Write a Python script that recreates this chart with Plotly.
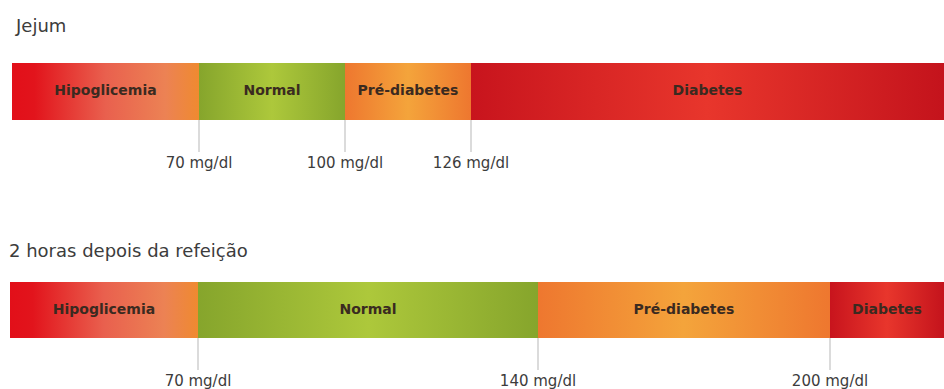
import plotly.graph_objects as go

# --- data -------------------------------------------------------------
fasting_title = "Jejum"
fasting_zones = ["Hipoglicemia", "Normal", "Pré-diabetes", "Diabetes"]
fasting_cutoffs = [70, 100, 126]           # mg/dl between consecutive zones
fasting_widths = [187, 146, 126, 473]      # schematic display width of each zone

postmeal_title = "2 horas depois da refeição"
postmeal_zones = ["Hipoglicemia", "Normal", "Pré-diabetes", "Diabetes"]
postmeal_cutoffs = [70, 140, 200]
postmeal_widths = [188, 340, 292, 114]

unit = "mg/dl"

# gradient per zone: darker at the edges, lighter towards the middle
zone_gradients = {
    "Hipoglicemia": [[0.0, "#e20f19"], [0.12, "#e2141c"], [0.5, "#e9604e"], [0.82, "#ec8254"], [1.0, "#ef8a30"]],
    "Normal": [[0.0, "#86a52c"], [0.5, "#adc83b"], [1.0, "#86a52c"]],
    "Pré-diabetes": [[0.0, "#ee772f"], [0.5, "#f4a43b"], [1.0, "#ee772f"]],
    "Diabetes": [[0.0, "#c8141d"], [0.5, "#e8362c"], [1.0, "#c4131c"]],
}

# --- layout constants (page pixels) -----------------------------------
W, H = 944, 389
rows = [
    dict(title=fasting_title, zones=fasting_zones, cutoffs=fasting_cutoffs,
         widths=fasting_widths, x0=12, title_x=13, title_y=25, bar_top=63, bar_bot=120),
    dict(title=postmeal_title, zones=postmeal_zones, cutoffs=postmeal_cutoffs,
         widths=postmeal_widths, x0=10, title_x=7, title_y=250, bar_top=282, bar_bot=338),
]
TICK_LEN = 32
LABEL_GAP = 12
FONT = "DejaVu Sans"
TEXT_DARK = "#3a2a20"
TEXT_GREY = "#3c3c3c"

fig = go.Figure()

for row in rows:
    edges = [row["x0"]]
    for w in row["widths"]:
        edges.append(edges[-1] + w)

    # gradient-filled zone blocks
    for zone, a, b in zip(row["zones"], edges[:-1], edges[1:]):
        fig.add_trace(go.Scatter(
            x=[a, b, b, a, a],
            y=[row["bar_top"], row["bar_top"], row["bar_bot"], row["bar_bot"], row["bar_top"]],
            mode="lines", fill="toself", line=dict(width=0),
            fillgradient=dict(type="horizontal", colorscale=zone_gradients[zone]),
            hoverinfo="skip", showlegend=False,
        ))

    # zone names centred in each block
    centers = [(a + b) / 2 for a, b in zip(edges[:-1], edges[1:])]
    mid = (row["bar_top"] + row["bar_bot"]) / 2
    fig.add_trace(go.Scatter(
        x=centers, y=[mid] * len(centers), mode="text", text=row["zones"],
        textfont=dict(family=FONT, size=14, color=TEXT_DARK, weight=600),
        hoverinfo="skip", showlegend=False,
    ))

    # tick marks at the inner boundaries with the cut-off values
    inner = edges[1:-1]
    for xb in inner:
        fig.add_trace(go.Scatter(
            x=[xb, xb], y=[row["bar_bot"], row["bar_bot"] + TICK_LEN],
            mode="lines", line=dict(color="#cfcfcf", width=1.5),
            hoverinfo="skip", showlegend=False,
        ))
    fig.add_trace(go.Scatter(
        x=inner, y=[row["bar_bot"] + TICK_LEN + LABEL_GAP] * len(inner),
        mode="text", text=[f"{v} {unit}" for v in row["cutoffs"]],
        textfont=dict(family=FONT, size=15, color=TEXT_GREY),
        hoverinfo="skip", showlegend=False,
    ))

    # row heading
    fig.add_annotation(
        x=row["title_x"], y=row["title_y"], text=row["title"], showarrow=False,
        xanchor="left", yanchor="middle",
        font=dict(family=FONT, size=18, color=TEXT_GREY),
    )

fig.update_layout(
    width=W, height=H,
    margin=dict(l=0, r=0, t=0, b=0),
    paper_bgcolor="white", plot_bgcolor="white",
    xaxis=dict(range=[0, W], visible=False, fixedrange=True),
    yaxis=dict(range=[H, 0], visible=False, fixedrange=True),
)

fig.write_html("out.html")
